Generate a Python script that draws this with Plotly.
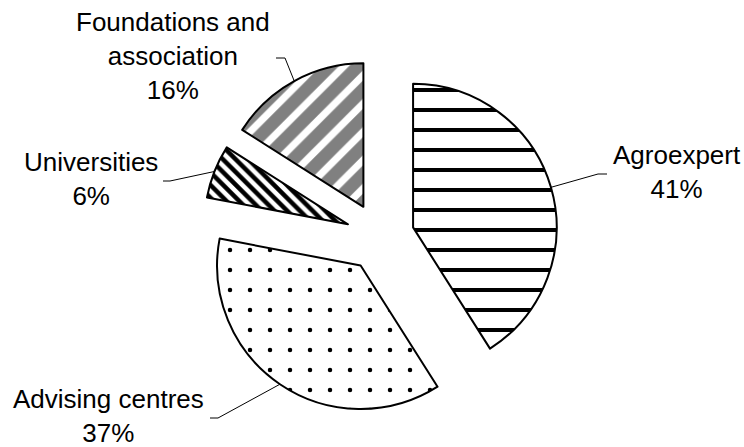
import math
import plotly.graph_objects as go

# ---- data ----
labels = ["Agroexpert", "Advising centres", "Universities", "Foundations and association"]
label_lines = ["Agroexpert", "Advising centres", "Universities", "Foundations and<br>association"]
values = [41, 37, 6, 16]

# ---- styling ----
pattern_shapes = ["-", ".", "\\", "/"]
pattern_fg = ["black", "black", "black", "#808080"]
pattern_size = [20, 20, 9, 20]
pattern_solidity = [0.2, 0.04, 0.5, 0.64]
PULL = 0.24
FONT = "Liberation Sans, Arial, sans-serif"
FSIZE = 26

W, H = 744, 447
ML, MR, MT, MB = 180, 164, 59, 32
PW, PH = W - ML - MR, H - MT - MB

# label placement (pixels) : center, bend point, end point
label_pos = [(677, 172), (108, 416), (91, 179), (173, 56)]
leader_bend = [(598, 174), (218, 418), (170, 181), (285, 58)]
leader_end = [(607, 174), (210, 418), (163, 181), (276, 58)]


def px2paper(x, y):
    return (x - ML) / PW, 1 - (y - MT) / PH


fig = go.Figure(go.Pie(
    labels=labels,
    values=values,
    sort=False,
    direction="clockwise",
    rotation=0,
    pull=[PULL] * len(values),
    textinfo="none",
    hoverinfo="label+percent",
    marker=dict(
        colors=["white"] * len(values),
        line=dict(color="black", width=2),
        pattern=dict(
            shape=pattern_shapes,
            fgcolor=pattern_fg,
            bgcolor=["white"] * len(values),
            size=pattern_size,
            solidity=pattern_solidity,
            fillmode="replace",
        ),
    ),
    showlegend=False,
))

# pie geometry as plotly computes it
cx, cy = ML + PW / 2, MT + PH / 2
r = min(PW, PH) / 2 / (1 + PULL)
total = sum(values)
cum = 0
shapes = []
annotations = []
for i, v in enumerate(values):
    theta = math.radians(360 * (cum + v / 2) / total)
    cum += v
    ex = cx + (1 + PULL) * r * math.sin(theta)
    ey = cy - (1 + PULL) * r * math.cos(theta)
    p0 = px2paper(ex, ey)
    p1 = px2paper(*leader_bend[i])
    p2 = px2paper(*leader_end[i])
    shapes.append(dict(
        type="path", xref="paper", yref="paper",
        path=f"M {p0[0]} {p0[1]} L {p1[0]} {p1[1]} L {p2[0]} {p2[1]}",
        line=dict(color="black", width=1),
    ))
    lx, ly = px2paper(*label_pos[i])
    annotations.append(dict(
        x=lx, y=ly, xref="paper", yref="paper",
        text=f"{label_lines[i]}<br>{v}%",
        showarrow=False, xanchor="center", yanchor="middle",
        font=dict(family=FONT, size=FSIZE, color="black"),
    ))

fig.update_layout(
    width=W, height=H,
    margin=dict(l=ML, r=MR, t=MT, b=MB),
    paper_bgcolor="white",
    plot_bgcolor="white",
    shapes=shapes,
    annotations=annotations,
    font=dict(family=FONT, size=FSIZE, color="black"),
)

fig.write_html("out.html", config={"displayModeBar": False},
               post_script="document.body.style.margin='0';")
